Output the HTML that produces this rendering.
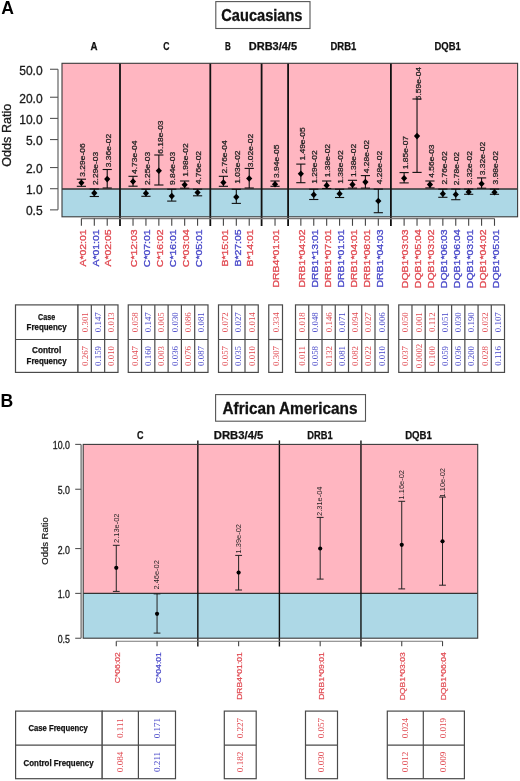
<!DOCTYPE html>
<html><head><meta charset="utf-8"><title>HLA odds ratios</title>
<style>
html,body{margin:0;padding:0;background:#fff;}
body{width:520px;height:781px;overflow:hidden;font-family:"Liberation Sans",sans-serif;}
svg{display:block;will-change:transform;}
</style></head>
<body>
<svg width="520" height="781" viewBox="0 0 520 781">
<rect width="520" height="781" fill="#fff"/>
<text x="1.3" y="14.1" font-size="17.6" fill="#000" font-family="'Liberation Sans', sans-serif" font-weight="bold">A</text>
<rect x="215.8" y="1.6" width="94.2" height="26.9" fill="#fff" stroke="#555" stroke-width="1.1"/>
<text x="221.3" y="20.6" font-size="16.2" fill="#111" font-family="'Liberation Sans', sans-serif" font-weight="bold" textLength="81.2" lengthAdjust="spacingAndGlyphs" stroke="#111" stroke-width="0.3">Caucasians</text>
<text x="90.5" y="49.8" font-size="10.2" fill="#111" font-family="'Liberation Sans', sans-serif" font-weight="bold" textLength="7" lengthAdjust="spacingAndGlyphs" stroke="#111" stroke-width="0.25">A</text>
<text x="163.2" y="49.8" font-size="10.2" fill="#111" font-family="'Liberation Sans', sans-serif" font-weight="bold" textLength="6.2" lengthAdjust="spacingAndGlyphs" stroke="#111" stroke-width="0.25">C</text>
<text x="224.9" y="49.8" font-size="10.2" fill="#111" font-family="'Liberation Sans', sans-serif" font-weight="bold" textLength="5.8" lengthAdjust="spacingAndGlyphs" stroke="#111" stroke-width="0.25">B</text>
<text x="248.75" y="49.8" font-size="10.2" fill="#111" font-family="'Liberation Sans', sans-serif" font-weight="bold" textLength="48.3" lengthAdjust="spacingAndGlyphs" stroke="#111" stroke-width="0.25">DRB3/4/5</text>
<text x="330.5" y="49.8" font-size="10.2" fill="#111" font-family="'Liberation Sans', sans-serif" font-weight="bold" textLength="25.8" lengthAdjust="spacingAndGlyphs" stroke="#111" stroke-width="0.25">DRB1</text>
<text x="434.45" y="49.8" font-size="10.2" fill="#111" font-family="'Liberation Sans', sans-serif" font-weight="bold" textLength="26.3" lengthAdjust="spacingAndGlyphs" stroke="#111" stroke-width="0.25">DQB1</text>
<rect x="62" y="63.3" width="455.6" height="125.6" fill="#ffb6c1" stroke="none" stroke-width="1"/>
<rect x="62" y="188.9" width="455.6" height="27.9" fill="#add8e6" stroke="none" stroke-width="1"/>
<line x1="62" y1="188.9" x2="517.6" y2="188.9" stroke="#333" stroke-width="1.5"/>
<line x1="120" y1="63.3" x2="120" y2="226" stroke="#111" stroke-width="1.8"/>
<line x1="210.3" y1="63.3" x2="210.3" y2="226" stroke="#111" stroke-width="1.8"/>
<line x1="261.6" y1="63.3" x2="261.6" y2="226" stroke="#111" stroke-width="1.8"/>
<line x1="288.1" y1="63.3" x2="288.1" y2="226" stroke="#111" stroke-width="1.8"/>
<line x1="390.9" y1="63.3" x2="390.9" y2="226" stroke="#111" stroke-width="1.8"/>
<rect x="62" y="63.3" width="455.6" height="153.5" fill="none" stroke="#3a3a3a" stroke-width="1.1"/>
<line x1="58" y1="69.26" x2="58" y2="209.86" stroke="#555" stroke-width="1.1"/>
<line x1="50" y1="69.26" x2="58" y2="69.26" stroke="#555" stroke-width="1.1"/>
<text x="42.6" y="74.56" font-size="12" fill="#1a1a1a" font-family="'Liberation Sans', sans-serif" text-anchor="end" stroke="#1a1a1a" stroke-width="0.3">50.0</text>
<line x1="50" y1="97.24" x2="58" y2="97.24" stroke="#555" stroke-width="1.1"/>
<text x="42.6" y="102.54" font-size="12" fill="#1a1a1a" font-family="'Liberation Sans', sans-serif" text-anchor="end" stroke="#1a1a1a" stroke-width="0.3">20.0</text>
<line x1="50" y1="118.4" x2="58" y2="118.4" stroke="#555" stroke-width="1.1"/>
<text x="42.6" y="123.7" font-size="12" fill="#1a1a1a" font-family="'Liberation Sans', sans-serif" text-anchor="end" stroke="#1a1a1a" stroke-width="0.3">10.0</text>
<line x1="50" y1="139.56" x2="58" y2="139.56" stroke="#555" stroke-width="1.1"/>
<text x="42.6" y="144.86" font-size="12" fill="#1a1a1a" font-family="'Liberation Sans', sans-serif" text-anchor="end" stroke="#1a1a1a" stroke-width="0.3">5.0</text>
<line x1="50" y1="167.54" x2="58" y2="167.54" stroke="#555" stroke-width="1.1"/>
<text x="42.6" y="172.84" font-size="12" fill="#1a1a1a" font-family="'Liberation Sans', sans-serif" text-anchor="end" stroke="#1a1a1a" stroke-width="0.3">2.0</text>
<line x1="50" y1="188.7" x2="58" y2="188.7" stroke="#555" stroke-width="1.1"/>
<text x="42.6" y="194" font-size="12" fill="#1a1a1a" font-family="'Liberation Sans', sans-serif" text-anchor="end" stroke="#1a1a1a" stroke-width="0.3">1.0</text>
<line x1="50" y1="209.86" x2="58" y2="209.86" stroke="#555" stroke-width="1.1"/>
<text x="42.6" y="215.16" font-size="12" fill="#1a1a1a" font-family="'Liberation Sans', sans-serif" text-anchor="end" stroke="#1a1a1a" stroke-width="0.3">0.5</text>
<text transform="translate(11.3,135.2) rotate(-90)" font-size="12.6" fill="#1a1a1a" font-family="'Liberation Sans', sans-serif" text-anchor="middle" stroke="#1a1a1a" stroke-width="0.3">Odds Ratio</text>
<line x1="81.4" y1="218.6" x2="494.49" y2="218.6" stroke="#777" stroke-width="1.1"/>
<line x1="81.4" y1="218.6" x2="81.4" y2="225.8" stroke="#444" stroke-width="1.1"/>
<line x1="94.31" y1="218.6" x2="94.31" y2="225.8" stroke="#444" stroke-width="1.1"/>
<line x1="107.22" y1="218.6" x2="107.22" y2="225.8" stroke="#444" stroke-width="1.1"/>
<line x1="133.03" y1="218.6" x2="133.03" y2="225.8" stroke="#444" stroke-width="1.1"/>
<line x1="145.94" y1="218.6" x2="145.94" y2="225.8" stroke="#444" stroke-width="1.1"/>
<line x1="158.85" y1="218.6" x2="158.85" y2="225.8" stroke="#444" stroke-width="1.1"/>
<line x1="171.76" y1="218.6" x2="171.76" y2="225.8" stroke="#444" stroke-width="1.1"/>
<line x1="184.67" y1="218.6" x2="184.67" y2="225.8" stroke="#444" stroke-width="1.1"/>
<line x1="197.58" y1="218.6" x2="197.58" y2="225.8" stroke="#444" stroke-width="1.1"/>
<line x1="223.4" y1="218.6" x2="223.4" y2="225.8" stroke="#444" stroke-width="1.1"/>
<line x1="236.31" y1="218.6" x2="236.31" y2="225.8" stroke="#444" stroke-width="1.1"/>
<line x1="249.22" y1="218.6" x2="249.22" y2="225.8" stroke="#444" stroke-width="1.1"/>
<line x1="275.03" y1="218.6" x2="275.03" y2="225.8" stroke="#444" stroke-width="1.1"/>
<line x1="300.85" y1="218.6" x2="300.85" y2="225.8" stroke="#444" stroke-width="1.1"/>
<line x1="313.76" y1="218.6" x2="313.76" y2="225.8" stroke="#444" stroke-width="1.1"/>
<line x1="326.67" y1="218.6" x2="326.67" y2="225.8" stroke="#444" stroke-width="1.1"/>
<line x1="339.58" y1="218.6" x2="339.58" y2="225.8" stroke="#444" stroke-width="1.1"/>
<line x1="352.49" y1="218.6" x2="352.49" y2="225.8" stroke="#444" stroke-width="1.1"/>
<line x1="365.4" y1="218.6" x2="365.4" y2="225.8" stroke="#444" stroke-width="1.1"/>
<line x1="378.31" y1="218.6" x2="378.31" y2="225.8" stroke="#444" stroke-width="1.1"/>
<line x1="404.12" y1="218.6" x2="404.12" y2="225.8" stroke="#444" stroke-width="1.1"/>
<line x1="417.03" y1="218.6" x2="417.03" y2="225.8" stroke="#444" stroke-width="1.1"/>
<line x1="429.94" y1="218.6" x2="429.94" y2="225.8" stroke="#444" stroke-width="1.1"/>
<line x1="442.85" y1="218.6" x2="442.85" y2="225.8" stroke="#444" stroke-width="1.1"/>
<line x1="455.76" y1="218.6" x2="455.76" y2="225.8" stroke="#444" stroke-width="1.1"/>
<line x1="468.67" y1="218.6" x2="468.67" y2="225.8" stroke="#444" stroke-width="1.1"/>
<line x1="481.58" y1="218.6" x2="481.58" y2="225.8" stroke="#444" stroke-width="1.1"/>
<line x1="494.49" y1="218.6" x2="494.49" y2="225.8" stroke="#444" stroke-width="1.1"/>
<line x1="81.4" y1="179.2" x2="81.4" y2="186.3" stroke="#111" stroke-width="1.1"/>
<line x1="76.8" y1="179.2" x2="86" y2="179.2" stroke="#111" stroke-width="1.1"/>
<line x1="76.8" y1="186.3" x2="86" y2="186.3" stroke="#111" stroke-width="1.1"/>
<path d="M81.4 179.5L84.5 182.8L81.4 186.1L78.3 182.8Z" fill="#000"/>
<text transform="translate(85.1,176.7) scale(1,1.16) rotate(-90)" font-size="7.3" fill="#222" font-family="'Liberation Sans', sans-serif" stroke="#222" stroke-width="0.25">3.29e-06</text>
<text transform="translate(85.6,229.3) scale(1,1.14) rotate(-90)" font-size="9.2" fill="#e04850" font-family="'Liberation Sans', sans-serif" text-anchor="end" stroke="#e04850" stroke-width="0.3">A*02:01</text>
<line x1="94.31" y1="189" x2="94.31" y2="196.5" stroke="#111" stroke-width="1.1"/>
<line x1="89.71" y1="189" x2="98.91" y2="189" stroke="#111" stroke-width="1.1"/>
<line x1="89.71" y1="196.5" x2="98.91" y2="196.5" stroke="#111" stroke-width="1.1"/>
<path d="M94.31 189.8L97.41 193.1L94.31 196.4L91.21 193.1Z" fill="#000"/>
<text transform="translate(98.01,185.1) scale(1,1.16) rotate(-90)" font-size="7.3" fill="#222" font-family="'Liberation Sans', sans-serif" stroke="#222" stroke-width="0.25">2.29e-03</text>
<text transform="translate(98.51,229.3) scale(1,1.14) rotate(-90)" font-size="9.2" fill="#4646c8" font-family="'Liberation Sans', sans-serif" text-anchor="end" stroke="#4646c8" stroke-width="0.3">A*01:01</text>
<line x1="107.22" y1="169.5" x2="107.22" y2="188" stroke="#111" stroke-width="1.1"/>
<line x1="102.62" y1="169.5" x2="111.82" y2="169.5" stroke="#111" stroke-width="1.1"/>
<line x1="102.62" y1="188" x2="111.82" y2="188" stroke="#111" stroke-width="1.1"/>
<path d="M107.22 175.8L110.32 179.1L107.22 182.4L104.12 179.1Z" fill="#000"/>
<text transform="translate(110.92,167.2) scale(1,1.16) rotate(-90)" font-size="7.3" fill="#222" font-family="'Liberation Sans', sans-serif" stroke="#222" stroke-width="0.25">3.36e-02</text>
<text transform="translate(111.42,229.3) scale(1,1.14) rotate(-90)" font-size="9.2" fill="#e04850" font-family="'Liberation Sans', sans-serif" text-anchor="end" stroke="#e04850" stroke-width="0.3">A*02:05</text>
<line x1="133.03" y1="176.3" x2="133.03" y2="186.2" stroke="#111" stroke-width="1.1"/>
<line x1="128.44" y1="176.3" x2="137.63" y2="176.3" stroke="#111" stroke-width="1.1"/>
<line x1="128.44" y1="186.2" x2="137.63" y2="186.2" stroke="#111" stroke-width="1.1"/>
<path d="M133.03 178.2L136.13 181.5L133.03 184.8L129.94 181.5Z" fill="#000"/>
<text transform="translate(136.73,174) scale(1,1.16) rotate(-90)" font-size="7.3" fill="#222" font-family="'Liberation Sans', sans-serif" stroke="#222" stroke-width="0.25">4.73e-04</text>
<text transform="translate(137.23,229.3) scale(1,1.14) rotate(-90)" font-size="9.2" fill="#e04850" font-family="'Liberation Sans', sans-serif" text-anchor="end" stroke="#e04850" stroke-width="0.3">C*12:03</text>
<line x1="145.94" y1="189.2" x2="145.94" y2="196.3" stroke="#111" stroke-width="1.1"/>
<line x1="141.34" y1="189.2" x2="150.54" y2="189.2" stroke="#111" stroke-width="1.1"/>
<line x1="141.34" y1="196.3" x2="150.54" y2="196.3" stroke="#111" stroke-width="1.1"/>
<path d="M145.94 189.9L149.04 193.2L145.94 196.5L142.84 193.2Z" fill="#000"/>
<text transform="translate(149.64,185.1) scale(1,1.16) rotate(-90)" font-size="7.3" fill="#222" font-family="'Liberation Sans', sans-serif" stroke="#222" stroke-width="0.25">2.25e-03</text>
<text transform="translate(150.14,229.3) scale(1,1.14) rotate(-90)" font-size="9.2" fill="#4646c8" font-family="'Liberation Sans', sans-serif" text-anchor="end" stroke="#4646c8" stroke-width="0.3">C*07:01</text>
<line x1="158.85" y1="155" x2="158.85" y2="185" stroke="#111" stroke-width="1.1"/>
<line x1="154.25" y1="155" x2="163.45" y2="155" stroke="#111" stroke-width="1.1"/>
<line x1="154.25" y1="185" x2="163.45" y2="185" stroke="#111" stroke-width="1.1"/>
<path d="M158.85 167.4L161.95 170.7L158.85 174L155.75 170.7Z" fill="#000"/>
<text transform="translate(162.55,153.8) scale(1,1.16) rotate(-90)" font-size="7.3" fill="#222" font-family="'Liberation Sans', sans-serif" stroke="#222" stroke-width="0.25">6.18e-03</text>
<text transform="translate(163.05,229.3) scale(1,1.14) rotate(-90)" font-size="9.2" fill="#e04850" font-family="'Liberation Sans', sans-serif" text-anchor="end" stroke="#e04850" stroke-width="0.3">C*16:02</text>
<line x1="171.76" y1="189.2" x2="171.76" y2="201.1" stroke="#111" stroke-width="1.1"/>
<line x1="167.16" y1="189.2" x2="176.36" y2="189.2" stroke="#111" stroke-width="1.1"/>
<line x1="167.16" y1="201.1" x2="176.36" y2="201.1" stroke="#111" stroke-width="1.1"/>
<path d="M171.76 192.8L174.86 196.1L171.76 199.4L168.66 196.1Z" fill="#000"/>
<text transform="translate(175.46,185.1) scale(1,1.16) rotate(-90)" font-size="7.3" fill="#222" font-family="'Liberation Sans', sans-serif" stroke="#222" stroke-width="0.25">9.84e-03</text>
<text transform="translate(175.96,229.3) scale(1,1.14) rotate(-90)" font-size="9.2" fill="#4646c8" font-family="'Liberation Sans', sans-serif" text-anchor="end" stroke="#4646c8" stroke-width="0.3">C*16:01</text>
<line x1="184.67" y1="181" x2="184.67" y2="188.2" stroke="#111" stroke-width="1.1"/>
<line x1="180.07" y1="181" x2="189.27" y2="181" stroke="#111" stroke-width="1.1"/>
<line x1="180.07" y1="188.2" x2="189.27" y2="188.2" stroke="#111" stroke-width="1.1"/>
<path d="M184.67 181.4L187.77 184.7L184.67 188L181.57 184.7Z" fill="#000"/>
<text transform="translate(188.37,176.7) scale(1,1.16) rotate(-90)" font-size="7.3" fill="#222" font-family="'Liberation Sans', sans-serif" stroke="#222" stroke-width="0.25">1.98e-02</text>
<text transform="translate(188.87,229.3) scale(1,1.14) rotate(-90)" font-size="9.2" fill="#e04850" font-family="'Liberation Sans', sans-serif" text-anchor="end" stroke="#e04850" stroke-width="0.3">C*03:04</text>
<line x1="197.58" y1="189.2" x2="197.58" y2="195.8" stroke="#111" stroke-width="1.1"/>
<line x1="192.98" y1="189.2" x2="202.18" y2="189.2" stroke="#111" stroke-width="1.1"/>
<line x1="192.98" y1="195.8" x2="202.18" y2="195.8" stroke="#111" stroke-width="1.1"/>
<path d="M197.58 189.2L200.68 192.5L197.58 195.8L194.48 192.5Z" fill="#000"/>
<text transform="translate(201.28,184.3) scale(1,1.16) rotate(-90)" font-size="7.3" fill="#222" font-family="'Liberation Sans', sans-serif" stroke="#222" stroke-width="0.25">4.76e-02</text>
<text transform="translate(201.78,229.3) scale(1,1.14) rotate(-90)" font-size="9.2" fill="#4646c8" font-family="'Liberation Sans', sans-serif" text-anchor="end" stroke="#4646c8" stroke-width="0.3">C*05:01</text>
<line x1="223.4" y1="176.3" x2="223.4" y2="186.3" stroke="#111" stroke-width="1.1"/>
<line x1="218.8" y1="176.3" x2="228" y2="176.3" stroke="#111" stroke-width="1.1"/>
<line x1="218.8" y1="186.3" x2="228" y2="186.3" stroke="#111" stroke-width="1.1"/>
<path d="M223.4 179.2L226.5 182.5L223.4 185.8L220.3 182.5Z" fill="#000"/>
<text transform="translate(227.1,173.6) scale(1,1.16) rotate(-90)" font-size="7.3" fill="#222" font-family="'Liberation Sans', sans-serif" stroke="#222" stroke-width="0.25">2.76e-04</text>
<text transform="translate(227.6,229.3) scale(1,1.14) rotate(-90)" font-size="9.2" fill="#e04850" font-family="'Liberation Sans', sans-serif" text-anchor="end" stroke="#e04850" stroke-width="0.3">B*15:01</text>
<line x1="236.31" y1="189.3" x2="236.31" y2="203.4" stroke="#111" stroke-width="1.1"/>
<line x1="231.71" y1="189.3" x2="240.91" y2="189.3" stroke="#111" stroke-width="1.1"/>
<line x1="231.71" y1="203.4" x2="240.91" y2="203.4" stroke="#111" stroke-width="1.1"/>
<path d="M236.31 193.8L239.41 197.1L236.31 200.4L233.21 197.1Z" fill="#000"/>
<text transform="translate(240.01,183.8) scale(1,1.16) rotate(-90)" font-size="7.3" fill="#222" font-family="'Liberation Sans', sans-serif" stroke="#222" stroke-width="0.25">1.03e-02</text>
<text transform="translate(240.51,229.3) scale(1,1.14) rotate(-90)" font-size="9.2" fill="#4646c8" font-family="'Liberation Sans', sans-serif" text-anchor="end" stroke="#4646c8" stroke-width="0.3">B*27:05</text>
<line x1="249.22" y1="168.4" x2="249.22" y2="188" stroke="#111" stroke-width="1.1"/>
<line x1="244.62" y1="168.4" x2="253.82" y2="168.4" stroke="#111" stroke-width="1.1"/>
<line x1="244.62" y1="188" x2="253.82" y2="188" stroke="#111" stroke-width="1.1"/>
<path d="M249.22 175.2L252.32 178.5L249.22 181.8L246.12 178.5Z" fill="#000"/>
<text transform="translate(252.92,167.2) scale(1,1.16) rotate(-90)" font-size="7.3" fill="#222" font-family="'Liberation Sans', sans-serif" stroke="#222" stroke-width="0.25">3.02e-02</text>
<text transform="translate(253.42,229.3) scale(1,1.14) rotate(-90)" font-size="9.2" fill="#e04850" font-family="'Liberation Sans', sans-serif" text-anchor="end" stroke="#e04850" stroke-width="0.3">B*14:01</text>
<line x1="275.03" y1="181" x2="275.03" y2="186.3" stroke="#111" stroke-width="1.1"/>
<line x1="270.43" y1="181" x2="279.63" y2="181" stroke="#111" stroke-width="1.1"/>
<line x1="270.43" y1="186.3" x2="279.63" y2="186.3" stroke="#111" stroke-width="1.1"/>
<path d="M275.03 180.9L278.13 184.2L275.03 187.5L271.93 184.2Z" fill="#000"/>
<text transform="translate(278.73,178) scale(1,1.16) rotate(-90)" font-size="7.3" fill="#222" font-family="'Liberation Sans', sans-serif" stroke="#222" stroke-width="0.25">3.94e-05</text>
<text transform="translate(279.23,229.3) scale(1,1.14) rotate(-90)" font-size="9.2" fill="#e04850" font-family="'Liberation Sans', sans-serif" text-anchor="end" stroke="#e04850" stroke-width="0.3">DRB4*01:01</text>
<line x1="300.85" y1="164.1" x2="300.85" y2="182.7" stroke="#111" stroke-width="1.1"/>
<line x1="296.25" y1="164.1" x2="305.45" y2="164.1" stroke="#111" stroke-width="1.1"/>
<line x1="296.25" y1="182.7" x2="305.45" y2="182.7" stroke="#111" stroke-width="1.1"/>
<path d="M300.85 170.5L303.95 173.8L300.85 177.1L297.75 173.8Z" fill="#000"/>
<text transform="translate(304.55,160.6) scale(1,1.16) rotate(-90)" font-size="7.3" fill="#222" font-family="'Liberation Sans', sans-serif" stroke="#222" stroke-width="0.25">1.49e-05</text>
<text transform="translate(305.05,229.3) scale(1,1.14) rotate(-90)" font-size="9.2" fill="#e04850" font-family="'Liberation Sans', sans-serif" text-anchor="end" stroke="#e04850" stroke-width="0.3">DRB1*04:02</text>
<line x1="313.76" y1="189.2" x2="313.76" y2="199.5" stroke="#111" stroke-width="1.1"/>
<line x1="309.16" y1="189.2" x2="318.36" y2="189.2" stroke="#111" stroke-width="1.1"/>
<line x1="309.16" y1="199.5" x2="318.36" y2="199.5" stroke="#111" stroke-width="1.1"/>
<path d="M313.76 191.5L316.86 194.8L313.76 198.1L310.66 194.8Z" fill="#000"/>
<text transform="translate(317.46,183.7) scale(1,1.16) rotate(-90)" font-size="7.3" fill="#222" font-family="'Liberation Sans', sans-serif" stroke="#222" stroke-width="0.25">1.29e-02</text>
<text transform="translate(317.96,229.3) scale(1,1.14) rotate(-90)" font-size="9.2" fill="#4646c8" font-family="'Liberation Sans', sans-serif" text-anchor="end" stroke="#4646c8" stroke-width="0.3">DRB1*13:01</text>
<line x1="326.67" y1="181" x2="326.67" y2="188.5" stroke="#111" stroke-width="1.1"/>
<line x1="322.07" y1="181" x2="331.27" y2="181" stroke="#111" stroke-width="1.1"/>
<line x1="322.07" y1="188.5" x2="331.27" y2="188.5" stroke="#111" stroke-width="1.1"/>
<path d="M326.67 182.1L329.77 185.4L326.67 188.7L323.57 185.4Z" fill="#000"/>
<text transform="translate(330.37,177.3) scale(1,1.16) rotate(-90)" font-size="7.3" fill="#222" font-family="'Liberation Sans', sans-serif" stroke="#222" stroke-width="0.25">1.38e-02</text>
<text transform="translate(330.87,229.3) scale(1,1.14) rotate(-90)" font-size="9.2" fill="#e04850" font-family="'Liberation Sans', sans-serif" text-anchor="end" stroke="#e04850" stroke-width="0.3">DRB1*07:01</text>
<line x1="339.58" y1="189.2" x2="339.58" y2="197.5" stroke="#111" stroke-width="1.1"/>
<line x1="334.98" y1="189.2" x2="344.18" y2="189.2" stroke="#111" stroke-width="1.1"/>
<line x1="334.98" y1="197.5" x2="344.18" y2="197.5" stroke="#111" stroke-width="1.1"/>
<path d="M339.58 190.4L342.68 193.7L339.58 197L336.48 193.7Z" fill="#000"/>
<text transform="translate(343.28,183.7) scale(1,1.16) rotate(-90)" font-size="7.3" fill="#222" font-family="'Liberation Sans', sans-serif" stroke="#222" stroke-width="0.25">1.38e-02</text>
<text transform="translate(343.78,229.3) scale(1,1.14) rotate(-90)" font-size="9.2" fill="#4646c8" font-family="'Liberation Sans', sans-serif" text-anchor="end" stroke="#4646c8" stroke-width="0.3">DRB1*01:01</text>
<line x1="352.49" y1="180.3" x2="352.49" y2="188.1" stroke="#111" stroke-width="1.1"/>
<line x1="347.89" y1="180.3" x2="357.09" y2="180.3" stroke="#111" stroke-width="1.1"/>
<line x1="347.89" y1="188.1" x2="357.09" y2="188.1" stroke="#111" stroke-width="1.1"/>
<path d="M352.49 181.3L355.59 184.6L352.49 187.9L349.39 184.6Z" fill="#000"/>
<text transform="translate(356.19,177.1) scale(1,1.16) rotate(-90)" font-size="7.3" fill="#222" font-family="'Liberation Sans', sans-serif" stroke="#222" stroke-width="0.25">1.38e-02</text>
<text transform="translate(356.69,229.3) scale(1,1.14) rotate(-90)" font-size="9.2" fill="#e04850" font-family="'Liberation Sans', sans-serif" text-anchor="end" stroke="#e04850" stroke-width="0.3">DRB1*04:01</text>
<line x1="365.4" y1="175.6" x2="365.4" y2="188.1" stroke="#111" stroke-width="1.1"/>
<line x1="360.8" y1="175.6" x2="370" y2="175.6" stroke="#111" stroke-width="1.1"/>
<line x1="360.8" y1="188.1" x2="370" y2="188.1" stroke="#111" stroke-width="1.1"/>
<path d="M365.4 178.8L368.5 182.1L365.4 185.4L362.3 182.1Z" fill="#000"/>
<text transform="translate(369.1,173.3) scale(1,1.16) rotate(-90)" font-size="7.3" fill="#222" font-family="'Liberation Sans', sans-serif" stroke="#222" stroke-width="0.25">4.28e-02</text>
<text transform="translate(369.6,229.3) scale(1,1.14) rotate(-90)" font-size="9.2" fill="#e04850" font-family="'Liberation Sans', sans-serif" text-anchor="end" stroke="#e04850" stroke-width="0.3">DRB1*08:01</text>
<line x1="378.31" y1="189.1" x2="378.31" y2="212.7" stroke="#111" stroke-width="1.1"/>
<line x1="373.71" y1="189.1" x2="382.91" y2="189.1" stroke="#111" stroke-width="1.1"/>
<line x1="373.71" y1="212.7" x2="382.91" y2="212.7" stroke="#111" stroke-width="1.1"/>
<path d="M378.31 197.7L381.41 201L378.31 204.3L375.21 201Z" fill="#000"/>
<text transform="translate(382.01,184.2) scale(1,1.16) rotate(-90)" font-size="7.3" fill="#222" font-family="'Liberation Sans', sans-serif" stroke="#222" stroke-width="0.25">4.28e-02</text>
<text transform="translate(382.51,229.3) scale(1,1.14) rotate(-90)" font-size="9.2" fill="#4646c8" font-family="'Liberation Sans', sans-serif" text-anchor="end" stroke="#4646c8" stroke-width="0.3">DRB1*04:03</text>
<line x1="404.12" y1="172.6" x2="404.12" y2="182.9" stroke="#111" stroke-width="1.1"/>
<line x1="399.52" y1="172.6" x2="408.72" y2="172.6" stroke="#111" stroke-width="1.1"/>
<line x1="399.52" y1="182.9" x2="408.72" y2="182.9" stroke="#111" stroke-width="1.1"/>
<path d="M404.12 174.9L407.22 178.2L404.12 181.5L401.02 178.2Z" fill="#000"/>
<text transform="translate(407.82,169.3) scale(1,1.16) rotate(-90)" font-size="7.3" fill="#222" font-family="'Liberation Sans', sans-serif" stroke="#222" stroke-width="0.25">1.85e-07</text>
<text transform="translate(408.32,229.3) scale(1,1.14) rotate(-90)" font-size="9.2" fill="#e04850" font-family="'Liberation Sans', sans-serif" text-anchor="end" stroke="#e04850" stroke-width="0.3">DQB1*03:03</text>
<line x1="417.03" y1="99" x2="417.03" y2="172.4" stroke="#111" stroke-width="1.1"/>
<line x1="412.43" y1="99" x2="421.63" y2="99" stroke="#111" stroke-width="1.1"/>
<line x1="412.43" y1="172.4" x2="421.63" y2="172.4" stroke="#111" stroke-width="1.1"/>
<path d="M417.03 132.8L420.13 136.1L417.03 139.4L413.93 136.1Z" fill="#000"/>
<text transform="translate(420.73,100.3) scale(1,1.16) rotate(-90)" font-size="7.3" fill="#222" font-family="'Liberation Sans', sans-serif" stroke="#222" stroke-width="0.25">5.59e-04</text>
<text transform="translate(421.23,229.3) scale(1,1.14) rotate(-90)" font-size="9.2" fill="#e04850" font-family="'Liberation Sans', sans-serif" text-anchor="end" stroke="#e04850" stroke-width="0.3">DQB1*05:04</text>
<line x1="429.94" y1="181" x2="429.94" y2="187.9" stroke="#111" stroke-width="1.1"/>
<line x1="425.34" y1="181" x2="434.54" y2="181" stroke="#111" stroke-width="1.1"/>
<line x1="425.34" y1="187.9" x2="434.54" y2="187.9" stroke="#111" stroke-width="1.1"/>
<path d="M429.94 181.3L433.04 184.6L429.94 187.9L426.84 184.6Z" fill="#000"/>
<text transform="translate(433.64,177.8) scale(1,1.16) rotate(-90)" font-size="7.3" fill="#222" font-family="'Liberation Sans', sans-serif" stroke="#222" stroke-width="0.25">4.56e-03</text>
<text transform="translate(434.14,229.3) scale(1,1.14) rotate(-90)" font-size="9.2" fill="#e04850" font-family="'Liberation Sans', sans-serif" text-anchor="end" stroke="#e04850" stroke-width="0.3">DQB1*03:02</text>
<line x1="442.85" y1="189.1" x2="442.85" y2="197.3" stroke="#111" stroke-width="1.1"/>
<line x1="438.25" y1="189.1" x2="447.45" y2="189.1" stroke="#111" stroke-width="1.1"/>
<line x1="438.25" y1="197.3" x2="447.45" y2="197.3" stroke="#111" stroke-width="1.1"/>
<path d="M442.85 190.4L445.95 193.7L442.85 197L439.75 193.7Z" fill="#000"/>
<text transform="translate(446.55,184.6) scale(1,1.16) rotate(-90)" font-size="7.3" fill="#222" font-family="'Liberation Sans', sans-serif" stroke="#222" stroke-width="0.25">2.76e-02</text>
<text transform="translate(447.05,229.3) scale(1,1.14) rotate(-90)" font-size="9.2" fill="#4646c8" font-family="'Liberation Sans', sans-serif" text-anchor="end" stroke="#4646c8" stroke-width="0.3">DQB1*06:03</text>
<line x1="455.76" y1="189.1" x2="455.76" y2="199.7" stroke="#111" stroke-width="1.1"/>
<line x1="451.16" y1="189.1" x2="460.36" y2="189.1" stroke="#111" stroke-width="1.1"/>
<line x1="451.16" y1="199.7" x2="460.36" y2="199.7" stroke="#111" stroke-width="1.1"/>
<path d="M455.76 191.2L458.86 194.5L455.76 197.8L452.66 194.5Z" fill="#000"/>
<text transform="translate(459.46,185.3) scale(1,1.16) rotate(-90)" font-size="7.3" fill="#222" font-family="'Liberation Sans', sans-serif" stroke="#222" stroke-width="0.25">2.78e-02</text>
<text transform="translate(459.96,229.3) scale(1,1.14) rotate(-90)" font-size="9.2" fill="#4646c8" font-family="'Liberation Sans', sans-serif" text-anchor="end" stroke="#4646c8" stroke-width="0.3">DQB1*06:04</text>
<line x1="468.67" y1="189.1" x2="468.67" y2="194.3" stroke="#111" stroke-width="1.1"/>
<line x1="464.07" y1="189.1" x2="473.27" y2="189.1" stroke="#111" stroke-width="1.1"/>
<line x1="464.07" y1="194.3" x2="473.27" y2="194.3" stroke="#111" stroke-width="1.1"/>
<path d="M468.67 188.6L471.77 191.9L468.67 195.2L465.57 191.9Z" fill="#000"/>
<text transform="translate(472.37,184.4) scale(1,1.16) rotate(-90)" font-size="7.3" fill="#222" font-family="'Liberation Sans', sans-serif" stroke="#222" stroke-width="0.25">3.32e-02</text>
<text transform="translate(472.87,229.3) scale(1,1.14) rotate(-90)" font-size="9.2" fill="#4646c8" font-family="'Liberation Sans', sans-serif" text-anchor="end" stroke="#4646c8" stroke-width="0.3">DQB1*03:01</text>
<line x1="481.58" y1="177.9" x2="481.58" y2="188.2" stroke="#111" stroke-width="1.1"/>
<line x1="476.98" y1="177.9" x2="486.18" y2="177.9" stroke="#111" stroke-width="1.1"/>
<line x1="476.98" y1="188.2" x2="486.18" y2="188.2" stroke="#111" stroke-width="1.1"/>
<path d="M481.58 180.4L484.68 183.7L481.58 187L478.48 183.7Z" fill="#000"/>
<text transform="translate(485.28,175.2) scale(1,1.16) rotate(-90)" font-size="7.3" fill="#222" font-family="'Liberation Sans', sans-serif" stroke="#222" stroke-width="0.25">3.32e-02</text>
<text transform="translate(485.78,229.3) scale(1,1.14) rotate(-90)" font-size="9.2" fill="#e04850" font-family="'Liberation Sans', sans-serif" text-anchor="end" stroke="#e04850" stroke-width="0.3">DQB1*04:02</text>
<line x1="494.49" y1="189.1" x2="494.49" y2="194.3" stroke="#111" stroke-width="1.1"/>
<line x1="489.89" y1="189.1" x2="499.09" y2="189.1" stroke="#111" stroke-width="1.1"/>
<line x1="489.89" y1="194.3" x2="499.09" y2="194.3" stroke="#111" stroke-width="1.1"/>
<path d="M494.49 188.9L497.59 192.2L494.49 195.5L491.39 192.2Z" fill="#000"/>
<text transform="translate(498.19,184.4) scale(1,1.16) rotate(-90)" font-size="7.3" fill="#222" font-family="'Liberation Sans', sans-serif" stroke="#222" stroke-width="0.25">3.98e-02</text>
<text transform="translate(498.69,229.3) scale(1,1.14) rotate(-90)" font-size="9.2" fill="#4646c8" font-family="'Liberation Sans', sans-serif" text-anchor="end" stroke="#4646c8" stroke-width="0.3">DQB1*05:01</text>
<rect x="15.5" y="304.9" width="62.5" height="67.5" fill="#fff" stroke="#4a4a4a" stroke-width="1.2"/>
<line x1="15.5" y1="339.5" x2="78" y2="339.5" stroke="#4a4a4a" stroke-width="1.2"/>
<text x="46.6" y="319.7" font-size="8.6" fill="#111" font-family="'Liberation Sans', sans-serif" font-weight="bold" text-anchor="middle" textLength="17" lengthAdjust="spacingAndGlyphs" stroke="#111" stroke-width="0.25">Case</text>
<text x="46.6" y="330.4" font-size="8.6" fill="#111" font-family="'Liberation Sans', sans-serif" font-weight="bold" text-anchor="middle" textLength="40" lengthAdjust="spacingAndGlyphs" stroke="#111" stroke-width="0.25">Frequency</text>
<text x="46.6" y="353.4" font-size="8.6" fill="#111" font-family="'Liberation Sans', sans-serif" font-weight="bold" text-anchor="middle" textLength="29.2" lengthAdjust="spacingAndGlyphs" stroke="#111" stroke-width="0.25">Control</text>
<text x="46.6" y="364.2" font-size="8.6" fill="#111" font-family="'Liberation Sans', sans-serif" font-weight="bold" text-anchor="middle" textLength="40" lengthAdjust="spacingAndGlyphs" stroke="#111" stroke-width="0.25">Frequency</text>
<rect x="78" y="304.9" width="39.99" height="67.5" fill="#fff" stroke="#4a4a4a" stroke-width="1.2"/>
<line x1="78" y1="339.5" x2="117.99" y2="339.5" stroke="#4a4a4a" stroke-width="1.2"/>
<line x1="91.33" y1="304.9" x2="91.33" y2="372.4" stroke="#4a4a4a" stroke-width="1.2"/>
<line x1="104.66" y1="304.9" x2="104.66" y2="372.4" stroke="#4a4a4a" stroke-width="1.2"/>
<text transform="translate(87.6,322.2) rotate(-90)" font-size="8.9" fill="#e04850" font-family="'Liberation Serif', serif" text-anchor="middle">0.301</text>
<text transform="translate(87.6,355.95) rotate(-90)" font-size="8.9" fill="#e04850" font-family="'Liberation Serif', serif" text-anchor="middle">0.267</text>
<text transform="translate(100.93,322.2) rotate(-90)" font-size="8.9" fill="#4646c8" font-family="'Liberation Serif', serif" text-anchor="middle">0.147</text>
<text transform="translate(100.93,355.95) rotate(-90)" font-size="8.9" fill="#4646c8" font-family="'Liberation Serif', serif" text-anchor="middle">0.159</text>
<text transform="translate(114.26,322.2) rotate(-90)" font-size="8.9" fill="#e04850" font-family="'Liberation Serif', serif" text-anchor="middle">0.013</text>
<text transform="translate(114.26,355.95) rotate(-90)" font-size="8.9" fill="#e04850" font-family="'Liberation Serif', serif" text-anchor="middle">0.010</text>
<rect x="128.25" y="304.9" width="79.74" height="67.5" fill="#fff" stroke="#4a4a4a" stroke-width="1.2"/>
<line x1="128.25" y1="339.5" x2="207.99" y2="339.5" stroke="#4a4a4a" stroke-width="1.2"/>
<line x1="141.54" y1="304.9" x2="141.54" y2="372.4" stroke="#4a4a4a" stroke-width="1.2"/>
<line x1="154.83" y1="304.9" x2="154.83" y2="372.4" stroke="#4a4a4a" stroke-width="1.2"/>
<line x1="168.12" y1="304.9" x2="168.12" y2="372.4" stroke="#4a4a4a" stroke-width="1.2"/>
<line x1="181.41" y1="304.9" x2="181.41" y2="372.4" stroke="#4a4a4a" stroke-width="1.2"/>
<line x1="194.7" y1="304.9" x2="194.7" y2="372.4" stroke="#4a4a4a" stroke-width="1.2"/>
<text transform="translate(137.83,322.2) rotate(-90)" font-size="8.9" fill="#e04850" font-family="'Liberation Serif', serif" text-anchor="middle">0.058</text>
<text transform="translate(137.83,355.95) rotate(-90)" font-size="8.9" fill="#e04850" font-family="'Liberation Serif', serif" text-anchor="middle">0.047</text>
<text transform="translate(151.12,322.2) rotate(-90)" font-size="8.9" fill="#4646c8" font-family="'Liberation Serif', serif" text-anchor="middle">0.147</text>
<text transform="translate(151.12,355.95) rotate(-90)" font-size="8.9" fill="#4646c8" font-family="'Liberation Serif', serif" text-anchor="middle">0.160</text>
<text transform="translate(164.41,322.2) rotate(-90)" font-size="8.9" fill="#e04850" font-family="'Liberation Serif', serif" text-anchor="middle">0.005</text>
<text transform="translate(164.41,355.95) rotate(-90)" font-size="8.9" fill="#e04850" font-family="'Liberation Serif', serif" text-anchor="middle">0.003</text>
<text transform="translate(177.7,322.2) rotate(-90)" font-size="8.9" fill="#4646c8" font-family="'Liberation Serif', serif" text-anchor="middle">0.030</text>
<text transform="translate(177.7,355.95) rotate(-90)" font-size="8.9" fill="#4646c8" font-family="'Liberation Serif', serif" text-anchor="middle">0.036</text>
<text transform="translate(190.99,322.2) rotate(-90)" font-size="8.9" fill="#e04850" font-family="'Liberation Serif', serif" text-anchor="middle">0.086</text>
<text transform="translate(190.99,355.95) rotate(-90)" font-size="8.9" fill="#e04850" font-family="'Liberation Serif', serif" text-anchor="middle">0.076</text>
<text transform="translate(204.28,322.2) rotate(-90)" font-size="8.9" fill="#4646c8" font-family="'Liberation Serif', serif" text-anchor="middle">0.081</text>
<text transform="translate(204.28,355.95) rotate(-90)" font-size="8.9" fill="#4646c8" font-family="'Liberation Serif', serif" text-anchor="middle">0.087</text>
<rect x="218.5" y="304.9" width="39.75" height="67.5" fill="#fff" stroke="#4a4a4a" stroke-width="1.2"/>
<line x1="218.5" y1="339.5" x2="258.25" y2="339.5" stroke="#4a4a4a" stroke-width="1.2"/>
<line x1="231.75" y1="304.9" x2="231.75" y2="372.4" stroke="#4a4a4a" stroke-width="1.2"/>
<line x1="245" y1="304.9" x2="245" y2="372.4" stroke="#4a4a4a" stroke-width="1.2"/>
<text transform="translate(228.06,322.2) rotate(-90)" font-size="8.9" fill="#e04850" font-family="'Liberation Serif', serif" text-anchor="middle">0.072</text>
<text transform="translate(228.06,355.95) rotate(-90)" font-size="8.9" fill="#e04850" font-family="'Liberation Serif', serif" text-anchor="middle">0.057</text>
<text transform="translate(241.31,322.2) rotate(-90)" font-size="8.9" fill="#4646c8" font-family="'Liberation Serif', serif" text-anchor="middle">0.027</text>
<text transform="translate(241.31,355.95) rotate(-90)" font-size="8.9" fill="#4646c8" font-family="'Liberation Serif', serif" text-anchor="middle">0.035</text>
<text transform="translate(254.56,322.2) rotate(-90)" font-size="8.9" fill="#e04850" font-family="'Liberation Serif', serif" text-anchor="middle">0.014</text>
<text transform="translate(254.56,355.95) rotate(-90)" font-size="8.9" fill="#e04850" font-family="'Liberation Serif', serif" text-anchor="middle">0.010</text>
<rect x="268.75" y="304.9" width="13.75" height="67.5" fill="#fff" stroke="#4a4a4a" stroke-width="1.2"/>
<line x1="268.75" y1="339.5" x2="282.5" y2="339.5" stroke="#4a4a4a" stroke-width="1.2"/>
<text transform="translate(278.56,322.2) rotate(-90)" font-size="8.9" fill="#e04850" font-family="'Liberation Serif', serif" text-anchor="middle">0.334</text>
<text transform="translate(278.56,355.95) rotate(-90)" font-size="8.9" fill="#e04850" font-family="'Liberation Serif', serif" text-anchor="middle">0.307</text>
<rect x="295.5" y="304.9" width="92.75" height="67.5" fill="#fff" stroke="#4a4a4a" stroke-width="1.2"/>
<line x1="295.5" y1="339.5" x2="388.25" y2="339.5" stroke="#4a4a4a" stroke-width="1.2"/>
<line x1="308.75" y1="304.9" x2="308.75" y2="372.4" stroke="#4a4a4a" stroke-width="1.2"/>
<line x1="322" y1="304.9" x2="322" y2="372.4" stroke="#4a4a4a" stroke-width="1.2"/>
<line x1="335.25" y1="304.9" x2="335.25" y2="372.4" stroke="#4a4a4a" stroke-width="1.2"/>
<line x1="348.5" y1="304.9" x2="348.5" y2="372.4" stroke="#4a4a4a" stroke-width="1.2"/>
<line x1="361.75" y1="304.9" x2="361.75" y2="372.4" stroke="#4a4a4a" stroke-width="1.2"/>
<line x1="375" y1="304.9" x2="375" y2="372.4" stroke="#4a4a4a" stroke-width="1.2"/>
<text transform="translate(305.06,322.2) rotate(-90)" font-size="8.9" fill="#e04850" font-family="'Liberation Serif', serif" text-anchor="middle">0.018</text>
<text transform="translate(305.06,355.95) rotate(-90)" font-size="8.9" fill="#e04850" font-family="'Liberation Serif', serif" text-anchor="middle">0.011</text>
<text transform="translate(318.31,322.2) rotate(-90)" font-size="8.9" fill="#4646c8" font-family="'Liberation Serif', serif" text-anchor="middle">0.048</text>
<text transform="translate(318.31,355.95) rotate(-90)" font-size="8.9" fill="#4646c8" font-family="'Liberation Serif', serif" text-anchor="middle">0.058</text>
<text transform="translate(331.56,322.2) rotate(-90)" font-size="8.9" fill="#e04850" font-family="'Liberation Serif', serif" text-anchor="middle">0.146</text>
<text transform="translate(331.56,355.95) rotate(-90)" font-size="8.9" fill="#e04850" font-family="'Liberation Serif', serif" text-anchor="middle">0.132</text>
<text transform="translate(344.81,322.2) rotate(-90)" font-size="8.9" fill="#4646c8" font-family="'Liberation Serif', serif" text-anchor="middle">0.071</text>
<text transform="translate(344.81,355.95) rotate(-90)" font-size="8.9" fill="#4646c8" font-family="'Liberation Serif', serif" text-anchor="middle">0.081</text>
<text transform="translate(358.06,322.2) rotate(-90)" font-size="8.9" fill="#e04850" font-family="'Liberation Serif', serif" text-anchor="middle">0.094</text>
<text transform="translate(358.06,355.95) rotate(-90)" font-size="8.9" fill="#e04850" font-family="'Liberation Serif', serif" text-anchor="middle">0.082</text>
<text transform="translate(371.31,322.2) rotate(-90)" font-size="8.9" fill="#e04850" font-family="'Liberation Serif', serif" text-anchor="middle">0.027</text>
<text transform="translate(371.31,355.95) rotate(-90)" font-size="8.9" fill="#e04850" font-family="'Liberation Serif', serif" text-anchor="middle">0.022</text>
<text transform="translate(384.56,322.2) rotate(-90)" font-size="8.9" fill="#4646c8" font-family="'Liberation Serif', serif" text-anchor="middle">0.006</text>
<text transform="translate(384.56,355.95) rotate(-90)" font-size="8.9" fill="#4646c8" font-family="'Liberation Serif', serif" text-anchor="middle">0.010</text>
<rect x="398.75" y="304.9" width="105.76" height="67.5" fill="#fff" stroke="#4a4a4a" stroke-width="1.2"/>
<line x1="398.75" y1="339.5" x2="504.51" y2="339.5" stroke="#4a4a4a" stroke-width="1.2"/>
<line x1="411.97" y1="304.9" x2="411.97" y2="372.4" stroke="#4a4a4a" stroke-width="1.2"/>
<line x1="425.19" y1="304.9" x2="425.19" y2="372.4" stroke="#4a4a4a" stroke-width="1.2"/>
<line x1="438.41" y1="304.9" x2="438.41" y2="372.4" stroke="#4a4a4a" stroke-width="1.2"/>
<line x1="451.63" y1="304.9" x2="451.63" y2="372.4" stroke="#4a4a4a" stroke-width="1.2"/>
<line x1="464.85" y1="304.9" x2="464.85" y2="372.4" stroke="#4a4a4a" stroke-width="1.2"/>
<line x1="478.07" y1="304.9" x2="478.07" y2="372.4" stroke="#4a4a4a" stroke-width="1.2"/>
<line x1="491.29" y1="304.9" x2="491.29" y2="372.4" stroke="#4a4a4a" stroke-width="1.2"/>
<text transform="translate(408.3,322.2) rotate(-90)" font-size="8.9" fill="#e04850" font-family="'Liberation Serif', serif" text-anchor="middle">0.050</text>
<text transform="translate(408.3,355.95) rotate(-90)" font-size="8.9" fill="#e04850" font-family="'Liberation Serif', serif" text-anchor="middle">0.037</text>
<text transform="translate(421.52,322.2) rotate(-90)" font-size="8.9" fill="#e04850" font-family="'Liberation Serif', serif" text-anchor="middle">0.001</text>
<text transform="translate(421.52,355.95) rotate(-90)" font-size="8.9" fill="#e04850" font-family="'Liberation Serif', serif" text-anchor="middle">0.0002</text>
<text transform="translate(434.74,322.2) rotate(-90)" font-size="8.9" fill="#e04850" font-family="'Liberation Serif', serif" text-anchor="middle">0.112</text>
<text transform="translate(434.74,355.95) rotate(-90)" font-size="8.9" fill="#e04850" font-family="'Liberation Serif', serif" text-anchor="middle">0.100</text>
<text transform="translate(447.96,322.2) rotate(-90)" font-size="8.9" fill="#4646c8" font-family="'Liberation Serif', serif" text-anchor="middle">0.051</text>
<text transform="translate(447.96,355.95) rotate(-90)" font-size="8.9" fill="#4646c8" font-family="'Liberation Serif', serif" text-anchor="middle">0.059</text>
<text transform="translate(461.18,322.2) rotate(-90)" font-size="8.9" fill="#4646c8" font-family="'Liberation Serif', serif" text-anchor="middle">0.030</text>
<text transform="translate(461.18,355.95) rotate(-90)" font-size="8.9" fill="#4646c8" font-family="'Liberation Serif', serif" text-anchor="middle">0.036</text>
<text transform="translate(474.4,322.2) rotate(-90)" font-size="8.9" fill="#4646c8" font-family="'Liberation Serif', serif" text-anchor="middle">0.190</text>
<text transform="translate(474.4,355.95) rotate(-90)" font-size="8.9" fill="#4646c8" font-family="'Liberation Serif', serif" text-anchor="middle">0.200</text>
<text transform="translate(487.62,322.2) rotate(-90)" font-size="8.9" fill="#e04850" font-family="'Liberation Serif', serif" text-anchor="middle">0.032</text>
<text transform="translate(487.62,355.95) rotate(-90)" font-size="8.9" fill="#e04850" font-family="'Liberation Serif', serif" text-anchor="middle">0.028</text>
<text transform="translate(500.84,322.2) rotate(-90)" font-size="8.9" fill="#4646c8" font-family="'Liberation Serif', serif" text-anchor="middle">0.107</text>
<text transform="translate(500.84,355.95) rotate(-90)" font-size="8.9" fill="#4646c8" font-family="'Liberation Serif', serif" text-anchor="middle">0.116</text>
<text x="0.6" y="406.5" font-size="17.6" fill="#000" font-family="'Liberation Sans', sans-serif" font-weight="bold">B</text>
<rect x="215.6" y="394.6" width="149.9" height="26.6" fill="#fff" stroke="#555" stroke-width="1.1"/>
<text x="222.5" y="413.5" font-size="16.2" fill="#111" font-family="'Liberation Sans', sans-serif" font-weight="bold" textLength="135" lengthAdjust="spacingAndGlyphs" stroke="#111" stroke-width="0.3">African Americans</text>
<text x="136.95" y="439.4" font-size="10.2" fill="#111" font-family="'Liberation Sans', sans-serif" font-weight="bold" textLength="6.5" lengthAdjust="spacingAndGlyphs" stroke="#111" stroke-width="0.25">C</text>
<text x="213.85" y="439.4" font-size="10.2" fill="#111" font-family="'Liberation Sans', sans-serif" font-weight="bold" textLength="49.5" lengthAdjust="spacingAndGlyphs" stroke="#111" stroke-width="0.25">DRB3/4/5</text>
<text x="307.35" y="439.4" font-size="10.2" fill="#111" font-family="'Liberation Sans', sans-serif" font-weight="bold" textLength="25.3" lengthAdjust="spacingAndGlyphs" stroke="#111" stroke-width="0.25">DRB1</text>
<text x="405.15" y="439.4" font-size="10.2" fill="#111" font-family="'Liberation Sans', sans-serif" font-weight="bold" textLength="26.7" lengthAdjust="spacingAndGlyphs" stroke="#111" stroke-width="0.25">DQB1</text>
<rect x="83.2" y="444.4" width="394.5" height="149" fill="#ffb6c1" stroke="none" stroke-width="1"/>
<rect x="83.2" y="593.4" width="394.5" height="44.8" fill="#add8e6" stroke="none" stroke-width="1"/>
<line x1="83.2" y1="593.4" x2="477.7" y2="593.4" stroke="#333" stroke-width="1.1"/>
<line x1="197.84" y1="440.4" x2="197.84" y2="646.5" stroke="#111" stroke-width="1.4"/>
<line x1="279.4" y1="440.4" x2="279.4" y2="646.5" stroke="#111" stroke-width="1.4"/>
<line x1="360.96" y1="440.4" x2="360.96" y2="646.5" stroke="#111" stroke-width="1.4"/>
<rect x="83.2" y="444.4" width="394.5" height="193.8" fill="none" stroke="#3a3a3a" stroke-width="1.1"/>
<line x1="81.1" y1="444.4" x2="81.1" y2="638.25" stroke="#555" stroke-width="1.1"/>
<line x1="75.2" y1="444.4" x2="81.1" y2="444.4" stroke="#555" stroke-width="1.1"/>
<text transform="translate(69.9,449.4) scale(1,1.15)" font-size="8.8" fill="#1a1a1a" font-family="'Liberation Sans', sans-serif" text-anchor="end" stroke="#1a1a1a" stroke-width="0.25">10.0</text>
<line x1="75.2" y1="489.25" x2="81.1" y2="489.25" stroke="#555" stroke-width="1.1"/>
<text transform="translate(69.9,494.25) scale(1,1.15)" font-size="8.8" fill="#1a1a1a" font-family="'Liberation Sans', sans-serif" text-anchor="end" stroke="#1a1a1a" stroke-width="0.25">5.0</text>
<line x1="75.2" y1="548.55" x2="81.1" y2="548.55" stroke="#555" stroke-width="1.1"/>
<text transform="translate(69.9,553.55) scale(1,1.15)" font-size="8.8" fill="#1a1a1a" font-family="'Liberation Sans', sans-serif" text-anchor="end" stroke="#1a1a1a" stroke-width="0.25">2.0</text>
<line x1="75.2" y1="593.4" x2="81.1" y2="593.4" stroke="#555" stroke-width="1.1"/>
<text transform="translate(69.9,598.4) scale(1,1.15)" font-size="8.8" fill="#1a1a1a" font-family="'Liberation Sans', sans-serif" text-anchor="end" stroke="#1a1a1a" stroke-width="0.25">1.0</text>
<line x1="75.2" y1="638.25" x2="81.1" y2="638.25" stroke="#555" stroke-width="1.1"/>
<text transform="translate(69.9,643.25) scale(1,1.15)" font-size="8.8" fill="#1a1a1a" font-family="'Liberation Sans', sans-serif" text-anchor="end" stroke="#1a1a1a" stroke-width="0.25">0.5</text>
<text transform="translate(48,541) scale(1,1.1) rotate(-90)" font-size="8.6" fill="#1a1a1a" font-family="'Liberation Sans', sans-serif" text-anchor="middle" stroke="#1a1a1a" stroke-width="0.2">Odds Ratio</text>
<line x1="116.28" y1="641.2" x2="442.52" y2="641.2" stroke="#777" stroke-width="1.1"/>
<line x1="116.28" y1="641.2" x2="116.28" y2="646.2" stroke="#444" stroke-width="1.1"/>
<line x1="157.06" y1="641.2" x2="157.06" y2="646.2" stroke="#444" stroke-width="1.1"/>
<line x1="238.62" y1="641.2" x2="238.62" y2="646.2" stroke="#444" stroke-width="1.1"/>
<line x1="320.18" y1="641.2" x2="320.18" y2="646.2" stroke="#444" stroke-width="1.1"/>
<line x1="401.74" y1="641.2" x2="401.74" y2="646.2" stroke="#444" stroke-width="1.1"/>
<line x1="442.52" y1="641.2" x2="442.52" y2="646.2" stroke="#444" stroke-width="1.1"/>
<line x1="116.28" y1="545.3" x2="116.28" y2="591.4" stroke="#222" stroke-width="1"/>
<line x1="112.88" y1="545.3" x2="119.68" y2="545.3" stroke="#222" stroke-width="1"/>
<line x1="112.88" y1="591.4" x2="119.68" y2="591.4" stroke="#222" stroke-width="1"/>
<circle cx="116.28" cy="567.8" r="2.1" fill="#000"/>
<text transform="translate(118.58,543) scale(1,1.15) rotate(-90)" font-size="6.5" fill="#222" font-family="'Liberation Sans', sans-serif">2.13e-02</text>
<text transform="translate(119.78,652.2) scale(1,1.13) rotate(-90)" font-size="7.6" fill="#e04850" font-family="'Liberation Sans', sans-serif" text-anchor="end" stroke="#e04850" stroke-width="0.2">C*06:02</text>
<line x1="157.06" y1="593.9" x2="157.06" y2="633.1" stroke="#222" stroke-width="1"/>
<line x1="153.66" y1="593.9" x2="160.46" y2="593.9" stroke="#222" stroke-width="1"/>
<line x1="153.66" y1="633.1" x2="160.46" y2="633.1" stroke="#222" stroke-width="1"/>
<circle cx="157.06" cy="613.8" r="2.1" fill="#000"/>
<text transform="translate(159.36,589.6) scale(1,1.15) rotate(-90)" font-size="6.5" fill="#222" font-family="'Liberation Sans', sans-serif">2.46e-02</text>
<text transform="translate(160.56,652.2) scale(1,1.13) rotate(-90)" font-size="7.6" fill="#4646c8" font-family="'Liberation Sans', sans-serif" text-anchor="end" stroke="#4646c8" stroke-width="0.2">C*04:01</text>
<line x1="238.62" y1="555.4" x2="238.62" y2="590" stroke="#222" stroke-width="1"/>
<line x1="235.22" y1="555.4" x2="242.02" y2="555.4" stroke="#222" stroke-width="1"/>
<line x1="235.22" y1="590" x2="242.02" y2="590" stroke="#222" stroke-width="1"/>
<circle cx="238.62" cy="572.6" r="2.1" fill="#000"/>
<text transform="translate(240.92,553.5) scale(1,1.15) rotate(-90)" font-size="6.5" fill="#222" font-family="'Liberation Sans', sans-serif">1.39e-02</text>
<text transform="translate(242.12,652.2) scale(1,1.13) rotate(-90)" font-size="7.6" fill="#e04850" font-family="'Liberation Sans', sans-serif" text-anchor="end" stroke="#e04850" stroke-width="0.2">DRB4*01:01</text>
<line x1="320.18" y1="517.4" x2="320.18" y2="579.1" stroke="#222" stroke-width="1"/>
<line x1="316.78" y1="517.4" x2="323.58" y2="517.4" stroke="#222" stroke-width="1"/>
<line x1="316.78" y1="579.1" x2="323.58" y2="579.1" stroke="#222" stroke-width="1"/>
<circle cx="320.18" cy="548.5" r="2.1" fill="#000"/>
<text transform="translate(322.48,516) scale(1,1.15) rotate(-90)" font-size="6.5" fill="#222" font-family="'Liberation Sans', sans-serif">2.31e-04</text>
<text transform="translate(323.68,652.2) scale(1,1.13) rotate(-90)" font-size="7.6" fill="#e04850" font-family="'Liberation Sans', sans-serif" text-anchor="end" stroke="#e04850" stroke-width="0.2">DRB1*09:01</text>
<line x1="401.74" y1="501.3" x2="401.74" y2="588.9" stroke="#222" stroke-width="1"/>
<line x1="398.34" y1="501.3" x2="405.14" y2="501.3" stroke="#222" stroke-width="1"/>
<line x1="398.34" y1="588.9" x2="405.14" y2="588.9" stroke="#222" stroke-width="1"/>
<circle cx="401.74" cy="544.8" r="2.1" fill="#000"/>
<text transform="translate(404.04,499.5) scale(1,1.15) rotate(-90)" font-size="6.5" fill="#222" font-family="'Liberation Sans', sans-serif">1.16e-02</text>
<text transform="translate(405.24,652.2) scale(1,1.13) rotate(-90)" font-size="7.6" fill="#e04850" font-family="'Liberation Sans', sans-serif" text-anchor="end" stroke="#e04850" stroke-width="0.2">DQB1*03:03</text>
<line x1="442.52" y1="497.1" x2="442.52" y2="585.2" stroke="#222" stroke-width="1"/>
<line x1="439.12" y1="497.1" x2="445.92" y2="497.1" stroke="#222" stroke-width="1"/>
<line x1="439.12" y1="585.2" x2="445.92" y2="585.2" stroke="#222" stroke-width="1"/>
<circle cx="442.52" cy="541.3" r="2.1" fill="#000"/>
<text transform="translate(444.82,497.5) scale(1,1.15) rotate(-90)" font-size="6.5" fill="#222" font-family="'Liberation Sans', sans-serif">1.10e-02</text>
<text transform="translate(446.02,652.2) scale(1,1.13) rotate(-90)" font-size="7.6" fill="#e04850" font-family="'Liberation Sans', sans-serif" text-anchor="end" stroke="#e04850" stroke-width="0.2">DQB1*06:04</text>
<rect x="15.6" y="711.1" width="86.6" height="67.6" fill="#fff" stroke="#4a4a4a" stroke-width="1.2"/>
<line x1="15.6" y1="745.1" x2="102.2" y2="745.1" stroke="#4a4a4a" stroke-width="1.2"/>
<text x="58.1" y="731.4" font-size="8.8" fill="#111" font-family="'Liberation Sans', sans-serif" font-weight="bold" text-anchor="middle" textLength="59.2" lengthAdjust="spacingAndGlyphs" stroke="#111" stroke-width="0.25">Case Frequency</text>
<text x="58.6" y="766" font-size="8.8" fill="#111" font-family="'Liberation Sans', sans-serif" font-weight="bold" text-anchor="middle" textLength="70" lengthAdjust="spacingAndGlyphs" stroke="#111" stroke-width="0.25">Control Frequency</text>
<rect x="102.2" y="711.1" width="73.3" height="67.6" fill="#fff" stroke="#4a4a4a" stroke-width="1.2"/>
<line x1="102.2" y1="745.1" x2="175.5" y2="745.1" stroke="#4a4a4a" stroke-width="1.2"/>
<line x1="138.4" y1="711.1" x2="138.4" y2="778.7" stroke="#4a4a4a" stroke-width="1.2"/>
<text transform="translate(122.87,728.1) scale(1,1.17) rotate(-90)" font-size="7.8" fill="#e04850" font-family="'Liberation Serif', serif" text-anchor="middle">0.111</text>
<text transform="translate(122.87,761.9) scale(1,1.17) rotate(-90)" font-size="7.8" fill="#e04850" font-family="'Liberation Serif', serif" text-anchor="middle">0.084</text>
<text transform="translate(159.52,728.1) scale(1,1.17) rotate(-90)" font-size="7.8" fill="#4646c8" font-family="'Liberation Serif', serif" text-anchor="middle">0.171</text>
<text transform="translate(159.52,761.9) scale(1,1.17) rotate(-90)" font-size="7.8" fill="#4646c8" font-family="'Liberation Serif', serif" text-anchor="middle">0.211</text>
<rect x="224.3" y="711.1" width="31.9" height="67.6" fill="#fff" stroke="#4a4a4a" stroke-width="1.2"/>
<line x1="224.3" y1="745.1" x2="256.2" y2="745.1" stroke="#4a4a4a" stroke-width="1.2"/>
<text transform="translate(242.82,728.1) scale(1,1.17) rotate(-90)" font-size="7.8" fill="#e04850" font-family="'Liberation Serif', serif" text-anchor="middle">0.227</text>
<text transform="translate(242.82,761.9) scale(1,1.17) rotate(-90)" font-size="7.8" fill="#e04850" font-family="'Liberation Serif', serif" text-anchor="middle">0.182</text>
<rect x="305.5" y="711.1" width="32" height="67.6" fill="#fff" stroke="#4a4a4a" stroke-width="1.2"/>
<line x1="305.5" y1="745.1" x2="337.5" y2="745.1" stroke="#4a4a4a" stroke-width="1.2"/>
<text transform="translate(324.07,728.1) scale(1,1.17) rotate(-90)" font-size="7.8" fill="#e04850" font-family="'Liberation Serif', serif" text-anchor="middle">0.057</text>
<text transform="translate(324.07,761.9) scale(1,1.17) rotate(-90)" font-size="7.8" fill="#e04850" font-family="'Liberation Serif', serif" text-anchor="middle">0.030</text>
<rect x="387.3" y="711.1" width="77.1" height="67.6" fill="#fff" stroke="#4a4a4a" stroke-width="1.2"/>
<line x1="387.3" y1="745.1" x2="464.4" y2="745.1" stroke="#4a4a4a" stroke-width="1.2"/>
<line x1="423.3" y1="711.1" x2="423.3" y2="778.7" stroke="#4a4a4a" stroke-width="1.2"/>
<text transform="translate(407.87,728.1) scale(1,1.17) rotate(-90)" font-size="7.8" fill="#e04850" font-family="'Liberation Serif', serif" text-anchor="middle">0.024</text>
<text transform="translate(407.87,761.9) scale(1,1.17) rotate(-90)" font-size="7.8" fill="#e04850" font-family="'Liberation Serif', serif" text-anchor="middle">0.012</text>
<text transform="translate(446.42,728.1) scale(1,1.17) rotate(-90)" font-size="7.8" fill="#e04850" font-family="'Liberation Serif', serif" text-anchor="middle">0.019</text>
<text transform="translate(446.42,761.9) scale(1,1.17) rotate(-90)" font-size="7.8" fill="#e04850" font-family="'Liberation Serif', serif" text-anchor="middle">0.009</text>
</svg>
</body></html>
